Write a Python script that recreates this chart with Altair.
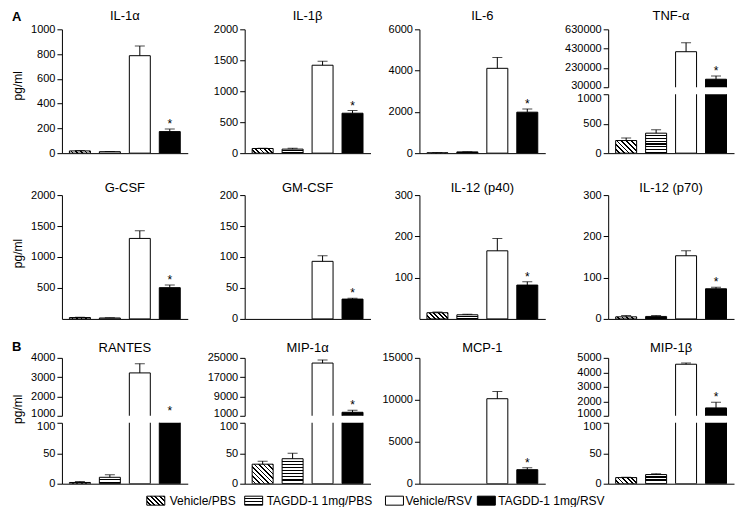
import math
import altair as alt
import pandas as pd

FONT = "Liberation Sans"

groups = ["Vehicle/PBS", "TAGDD-1 1mg/PBS", "Vehicle/RSV", "TAGDD-1 1mg/RSV"]

# ---- values (mean, upper error) ----
il1a_mean = [18, 12, 787, 174];        il1a_err = [3, 2, 78, 20]
il1b_mean = [75, 65, 1420, 645];       il1b_err = [5, 15, 65, 42]
il6_mean = [15, 60, 4110, 1985];       il6_err = [3, 8, 530, 155]
tnfa_mean = [214, 339, 398000, 113000]; tnfa_err = [45, 56, 93000, 34000]
gcsf_mean = [22, 15, 1300, 505];       gcsf_err = [3, 3, 122, 43]
gmcsf_mean = [0, 0, 93, 32];           gmcsf_err = [0, 0, 9, 1.5]
il12p40_mean = [15, 10, 165, 82];      il12p40_err = [1.5, 1.5, 30, 8]
il12p70_mean = [5, 6, 153, 73];        il12p70_err = [3, 2, 12, 4]
rantes_mean = [2, 10.5, 3220, 450];    rantes_err = [1.5, 4, 480, 0]
mip1a_mean = [32, 41, 22850, 2450];    mip1a_err = [5, 9, 1300, 850]
mcp1_mean = [0, 0, 10130, 1670];       mcp1_err = [0, 0, 860, 235]
mip1b_mean = [10, 15, 4560, 1545];     mip1b_err = [0.5, 1.5, 90, 390]

# ---- axis tick values ----
il1a_ticks = [0, 200, 400, 600, 800, 1000]
il1b_ticks = [0, 500, 1000, 1500, 2000]
il6_ticks = [0, 2000, 4000, 6000]
tnfa_lower_ticks = [0, 500, 1000]
tnfa_upper_ticks = [30000, 230000, 430000, 630000]
gcsf_ticks = [500, 1000, 1500, 2000]
gmcsf_ticks = [0, 50, 100, 150, 200]
il12p40_ticks = [100, 200, 300]
il12p70_ticks = [0, 100, 200, 300]
rantes_lower_ticks = [0, 50, 100]
rantes_upper_ticks = [1000, 2000, 3000, 4000]
mip1a_lower_ticks = [0, 50, 100]
mip1a_upper_ticks = [1000, 9000, 17000, 25000]
mcp1_ticks = [0, 5000, 10000, 15000]
mip1b_lower_ticks = [0, 50, 100]
mip1b_upper_ticks = [1000, 2000, 3000, 4000, 5000]

legend_labels = groups
row_letters = ["A", None, "B"]

panels = [
    [dict(name="IL-1α", mean=il1a_mean, err=il1a_err, ticks=il1a_ticks, dmax=1000),
     dict(name="IL-1β", mean=il1b_mean, err=il1b_err, ticks=il1b_ticks, dmax=2000),
     dict(name="IL-6", mean=il6_mean, err=il6_err, ticks=il6_ticks, dmax=6000),
     dict(name="TNF-α", mean=tnfa_mean, err=tnfa_err, lower=tnfa_lower_ticks, upper=tnfa_upper_ticks)],
    [dict(name="G-CSF", mean=gcsf_mean, err=gcsf_err, ticks=gcsf_ticks, dmax=2000),
     dict(name="GM-CSF", mean=gmcsf_mean, err=gmcsf_err, ticks=gmcsf_ticks, dmax=200),
     dict(name="IL-12 (p40)", mean=il12p40_mean, err=il12p40_err, ticks=il12p40_ticks, dmax=300),
     dict(name="IL-12 (p70)", mean=il12p70_mean, err=il12p70_err, ticks=il12p70_ticks, dmax=300)],
    [dict(name="RANTES", mean=rantes_mean, err=rantes_err, lower=rantes_lower_ticks, upper=rantes_upper_ticks),
     dict(name="MIP-1α", mean=mip1a_mean, err=mip1a_err, lower=mip1a_lower_ticks, upper=mip1a_upper_ticks),
     dict(name="MCP-1", mean=mcp1_mean, err=mcp1_err, ticks=mcp1_ticks, dmax=15000),
     dict(name="MIP-1β", mean=mip1b_mean, err=mip1b_err, lower=mip1b_lower_ticks, upper=mip1b_upper_ticks)],
]

# ---- layout / style ----
W = 126
ROW_H = [124, 124, 126]
UP_H = 58
GAP = 7
EXTENT = [40, 52, 44, 58]
TITLE_OFF = [0, -6, -3]
LETTER_OFF = [-14, 0, -12]
YTITLE_Y = [56, 58, 51]
BAR_W = 21
LABEL_SIZE = 11


def stripe_stops(n, frac=0.62):
    stops = []
    for k in range(n):
        a, b, c = k / n, (k + frac) / n, (k + 1) / n
        stops += [alt.GradientStop(offset=a, color="white"),
                  alt.GradientStop(offset=b, color="white"),
                  alt.GradientStop(offset=b, color="black"),
                  alt.GradientStop(offset=c, color="black")]
    return stops


def hatch_diag(w, h):
    h = max(h, 1.0)
    s = (w + h) / (w * w + h * h)
    L = (w + h) / math.sqrt(2)
    n = max(2, round(L / 3.2))
    return alt.Gradient(gradient="linear", x1=0, y1=1, x2=s * w, y2=1 - s * h,
                        stops=stripe_stops(n))


def hatch_horiz(h):
    n = max(2, round(h / 3.0))
    return alt.Gradient(gradient="linear", x1=0, y1=0, x2=0, y2=1, stops=stripe_stops(n))


def build_view(p, part, height, col, row, title=None, ytitle=None):
    if part == "single":
        ticks = p["ticks"]; lo, hi = 0, p["dmax"]
    elif part == "lower":
        ticks = p["lower"]; lo, hi = 0, p["lower"][-1]
    else:
        ticks = p["upper"]; lo, hi = p["upper"][0], p["upper"][-1]

    recs = []
    for i, (g, m, e) in enumerate(zip(groups, p["mean"], p["err"])):
        top = m + e
        star = None
        if i == 3:
            if part == "single":
                star = top
            elif part == "lower":
                star = top if top <= hi else None
            else:
                if top > lo:
                    star = top
                elif top > p["lower"][-1]:
                    star = lo
        recs.append(dict(group=g, mean=m, err=e, top=top, star=star))
    df = pd.DataFrame(recs)

    axis_kw = dict(values=ticks, format="d", minExtent=EXTENT[col], maxExtent=EXTENT[col],
                   grid=False, tickSize=5, labelPadding=2, labelOverlap=False, labelFlush=False)
    if part == "upper":
        axis_kw["labelOffset"] = {"condition": {"test": f"datum.value == {lo}", "value": -2}, "value": 0}
    elif part == "lower":
        axis_kw["labelOffset"] = {"condition": {"test": f"datum.value == {hi}", "value": 4}, "value": 0}
    if ytitle:
        axis_kw.update(titleX=-44, titleY=YTITLE_Y[row], titleAngle=270, titleAlign="center",
                       titleBaseline="middle", titleFontSize=12, titleFontWeight="normal",
                       titleFont=FONT, titleColor="black")
    yaxis = alt.Axis(**axis_kw)
    yscale = alt.Scale(domain=[lo, hi], nice=False, zero=False)

    def Y(field):
        return alt.Y(field, type="quantitative", scale=yscale, axis=yaxis, title=ytitle if ytitle else None)

    if part == "upper":
        xaxis = None
    else:
        xaxis = alt.Axis(labels=False, ticks=False, domain=True, grid=False)
    X = alt.X("group:N", scale=alt.Scale(domain=groups, paddingInner=0.3, paddingOuter=0.25),
              axis=xaxis, title=None)

    base = alt.Chart(df)
    layers = []
    for i, g in enumerate(groups):
        m = p["mean"][i]
        if m <= 0:
            continue
        hpx = min(m, hi) / (hi - lo) * height if part != "upper" else height
        if i == 0:
            fill = hatch_diag(BAR_W, hpx)
        elif i == 1:
            fill = hatch_horiz(hpx)
        elif i == 2:
            fill = "white"
        else:
            fill = "black"
        enc = dict(x=X, y=Y("mean"))
        if part == "upper":
            enc["y2"] = alt.datum(lo - 0.1 * (hi - lo))
        layers.append(base.transform_filter(alt.datum.group == g)
                      .mark_bar(fill=fill, stroke="black", strokeWidth=1, clip=True, opacity=1)
                      .encode(**enc))
    errs = base.transform_filter(alt.datum.err > 0)
    layers.append(errs.mark_rule(color="black", strokeWidth=1, clip=True)
                  .encode(x=X, y=Y("mean"), y2=alt.Y2("top")))
    layers.append(errs.mark_tick(color="black", thickness=1, size=10, clip=True, orient="horizontal")
                  .encode(x=X, y=Y("top")))
    layers.append(base.transform_filter("isValid(datum.star)")
                  .mark_text(text="*", fontSize=12, baseline="alphabetic", dy=-1, font=FONT, color="black")
                  .encode(x=X, y=Y("star")))
    props = dict(width=W, height=height)
    if title:
        props["title"] = alt.TitleParams(text=title, offset=TITLE_OFF[row], fontSize=13,
                                         fontWeight="normal", font=FONT, anchor="middle", color="black")
    return alt.layer(*layers).properties(**props)


def build_panel(p, row, col):
    ytitle = "pg/ml" if col == 0 else None
    if "ticks" in p:
        return build_view(p, "single", ROW_H[row], col, row, title=p["name"], ytitle=ytitle)
    up = build_view(p, "upper", UP_H, col, row, title=p["name"], ytitle=ytitle)
    lw = build_view(p, "lower", ROW_H[row] - UP_H - GAP, col, row)
    return alt.vconcat(up, lw, spacing=GAP, bounds="flush")


rows = []
for r in range(3):
    kw = dict(spacing=5)
    if row_letters[r]:
        kw["title"] = alt.TitleParams(text=row_letters[r], anchor="start", offset=LETTER_OFF[r],
                                      fontSize=13, fontWeight="bold", font=FONT, color="black")
    rows.append(alt.hconcat(*[build_panel(p, r, c) for c, p in enumerate(panels[r])], **kw))

# ---- legend ----
SW_X = [85, 183, 324, 416]
TX_X = [108, 205, 344, 437]
SW_W, SW_H = 18, 9
leg_df = pd.DataFrame({"label": legend_labels, "i": [0, 1, 2, 3]})
leg_fills = [hatch_diag(SW_W, SW_H), hatch_horiz(SW_H), "white", "black"]
leg_layers = []
for i in range(4):
    sub = alt.Chart(leg_df).transform_filter(alt.datum.i == i)
    leg_layers.append(sub.mark_rect(fill=leg_fills[i], stroke="black", strokeWidth=1)
                      .encode(x=alt.value(SW_X[i]), x2=alt.value(SW_X[i] + SW_W),
                              y=alt.value(0.5), y2=alt.value(0.5 + SW_H)))
    leg_layers.append(sub.mark_text(align="left", baseline="middle", fontSize=12, font=FONT, color="black")
                      .encode(x=alt.value(TX_X[i]), y=alt.value(5), text="label:N"))
legend = alt.layer(*leg_layers).properties(width=560, height=10)

top_part = alt.vconcat(rows[0], rows[1], spacing=24)
bottom_part = alt.vconcat(rows[2], legend, spacing=6)

chart = (alt.vconcat(top_part, bottom_part, spacing=17)
         .properties(padding={"left": 4, "top": 2, "right": 2, "bottom": 0}, background="white")
         .configure_view(stroke=None)
         .configure_axis(labelFont=FONT, labelFontSize=LABEL_SIZE, labelColor="black", domainColor="black",
                         tickColor="black", domainWidth=1, tickWidth=1, grid=False))

chart.save("out.html", embed_options={"renderer": "svg", "actions": False})
